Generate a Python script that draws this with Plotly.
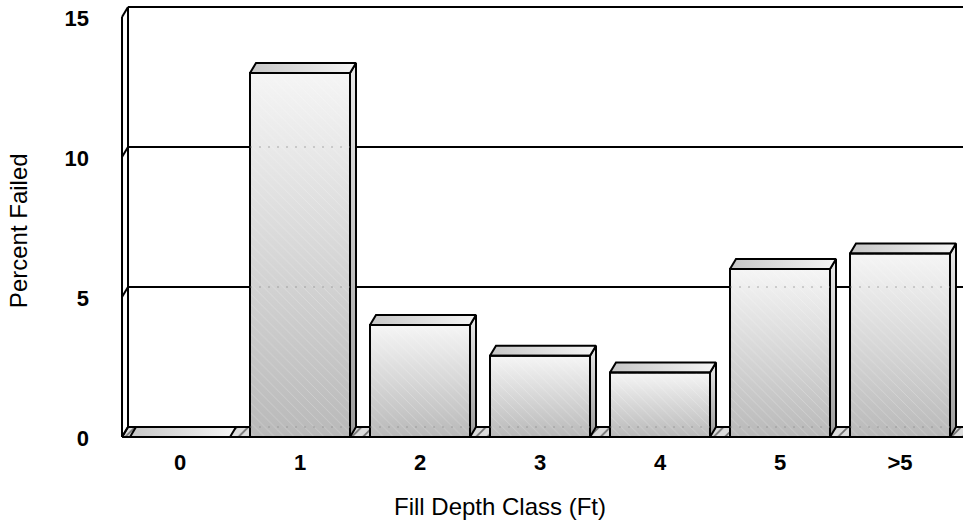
import plotly.graph_objects as go

# ---- data -------------------------------------------------------------
categories = ["0", "1", "2", "3", "4", "5", ">5"]
percent_failed = [0.0, 13.0, 4.0, 2.9, 2.3, 6.0, 6.55]
y_tick_values = [0, 5, 10, 15]
y_tick_labels = ["0", "5", "10", "15"]

x_title = "Fill Depth Class (Ft)"
y_title = "Percent Failed"

FONT = "Arial, 'Liberation Sans', Helvetica, sans-serif"

# ---- 3-D geometry (axis units) ----------------------------------------
BAR_W = 100 / 120          # bar width as a fraction of a category slot
DX = 6 / 120               # depth offset of the back planes, x
DY = 10 / 28               # depth offset of the back planes, y
X_RANGE = [-0.5167, 6.525]
Y_RANGE = [-0.357, 15.5]
WALL_X = -0.4833           # front edge of the left side wall
Y_TOP = max(y_tick_values)
FAR_X = X_RANGE[1] + 1

xs = list(range(len(categories)))

fig = go.Figure()


def polygon(px, py, **kw):
    fig.add_trace(go.Scatter(
        x=px + [px[0]], y=py + [py[0]], mode="lines", fill="toself",
        hoverinfo="skip", showlegend=False, **kw))


# floor band
polygon([WALL_X, FAR_X, FAR_X + DX, WALL_X + DX], [0, 0, DY, DY],
        fillcolor="#dcdcdc",
        fillpattern=dict(shape="/", fgcolor="black", bgcolor="#dcdcdc",
                         size=8, solidity=0.22),
        line=dict(color="black", width=2))

# side wall, back-wall top edge and gridlines on the back wall
wx, wy = [], []


def seg(x0, y0, x1, y1):
    wx.extend([x0, x1, None])
    wy.extend([y0, y1, None])


seg(WALL_X, 0, WALL_X, Y_TOP)
seg(WALL_X + DX, DY, WALL_X + DX, Y_TOP + DY)
for t in y_tick_values:
    seg(WALL_X, t, WALL_X + DX, t + DY)
    if t > 0:
        seg(WALL_X + DX, t + DY, FAR_X, t + DY)
fig.add_trace(go.Scatter(x=wx, y=wy, mode="lines",
                         line=dict(color="black", width=2),
                         hoverinfo="skip", showlegend=False))

# shaded faces of each bar
for x, v in zip(xs, percent_failed):
    x0, x1 = x - BAR_W / 2, x + BAR_W / 2
    if v > 0:
        polygon([x1, x1 + DX, x1 + DX, x1], [0, DY, v + DY, v],
                fillgradient=dict(type="vertical",
                                  colorscale=[[0, "#9a9a9a"], [1, "#e8e8e8"]],
                                  start=0, stop=v + DY),
                line=dict(color="black", width=2))
        polygon([x0, x1, x1, x0], [0, 0, v, v],
                fillgradient=dict(type="vertical",
                                  colorscale=[[0, "#b9b9b9"], [1, "#f5f5f5"]],
                                  start=0, stop=v),
                line=dict(width=0))
    polygon([x0, x1, x1 + DX, x0 + DX], [v, v, v + DY, v + DY],
            fillgradient=dict(type="horizontal",
                              colorscale=[[0, "#c6c6c6"], [1, "#f5f5f5"]],
                              start=x0, stop=x1 + DX),
            line=dict(color="black", width=2))

# bar fronts (outline + sheen) on an overlaid subplot so they sit on top
fig.add_trace(go.Bar(
    x=xs, y=percent_failed, width=BAR_W, xaxis="x2", yaxis="y2",
    marker=dict(color="rgba(0,0,0,0)", line=dict(color="black", width=2),
                pattern=dict(shape="\\", fgcolor="rgba(255,255,255,0.55)",
                             bgcolor="rgba(0,0,0,0)", size=7, solidity=0.12,
                             fillmode="overlay")),
    hoverinfo="skip", showlegend=False))

# faint gridline traces showing through the bar fronts
gx, gy = [], []
for x, v in zip(xs, percent_failed):
    for t in y_tick_values:
        if v > t + DY:
            gx.extend([x - BAR_W / 2, x + BAR_W / 2, None])
            gy.extend([t + DY, t + DY, None])
fig.add_trace(go.Scatter(x=gx, y=gy, mode="lines", xaxis="x2", yaxis="y2",
                         line=dict(color="rgba(140,140,140,0.7)", width=1,
                                   dash="2px,7px"),
                         hoverinfo="skip", showlegend=False))

tick_font = dict(family=FONT, size=22, color="black", weight="bold")
title_font = dict(family=FONT, size=24, color="black")

fig.update_layout(
    width=963, height=523,
    margin=dict(l=118, r=0, t=3, b=76),
    paper_bgcolor="white", plot_bgcolor="white",
    showlegend=False,
    xaxis=dict(range=X_RANGE, tickvals=xs, ticktext=categories,
               showgrid=False, zeroline=False, showline=False, ticks="",
               tickfont=tick_font, ticklabelstandoff=0, fixedrange=True),
    yaxis=dict(range=Y_RANGE, tickvals=y_tick_values, ticktext=y_tick_labels,
               showgrid=False, zeroline=False, showline=False, ticks="",
               tickfont=tick_font, ticklabelstandoff=28, ticklabelshift=1,
               ticklabeloverflow="allow", fixedrange=True),
    xaxis2=dict(overlaying="x", anchor="y2", range=X_RANGE, visible=False,
                fixedrange=True),
    yaxis2=dict(overlaying="y", anchor="x2", range=Y_RANGE, visible=False,
                fixedrange=True),
    annotations=[
        dict(text=x_title, xref="paper", yref="paper", x=0.452, y=-0.135,
             xanchor="center", yanchor="middle", showarrow=False,
             font=title_font),
        dict(text=y_title, xref="paper", yref="paper", x=-0.117, y=0.4865,
             xanchor="center", yanchor="middle", textangle=-90,
             showarrow=False, font=title_font),
    ],
)

fig.write_html("out.html")
